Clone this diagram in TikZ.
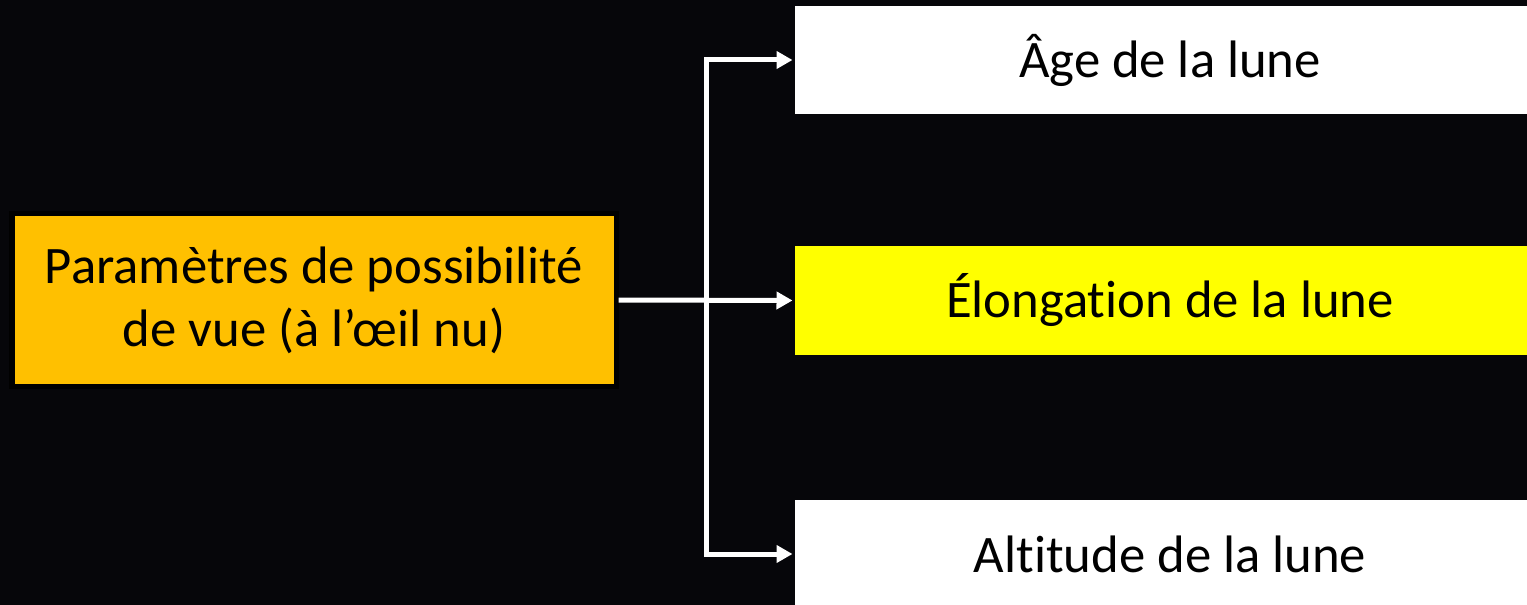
\documentclass[tikz,border=0pt]{standalone}
\usepackage{fontspec}
\setmainfont[RawFeature={-liga;-clig;-calt;-dlig}]{Carlito}
\usetikzlibrary{arrows.meta}

\definecolor{bgdark}{RGB}{6,6,10}
\definecolor{paramorange}{RGB}{255,192,0}
\definecolor{elongyellow}{RGB}{255,255,0}

\tikzstyle{param} = [rectangle, minimum width=12.08cm, minimum height=3.44cm, text centered, align=center, fill=paramorange, draw=black, font=\fontsize{30}{36}\selectfont]
\tikzstyle{crit} = [rectangle, minimum width=15cm, minimum height=2.16cm, text centered, fill=white, font=\fontsize{30}{36}\selectfont]

\begin{document}
\begin{tikzpicture}[-{Triangle[length=0.32cm,width=0.34cm]},line width=0.1cm]

\useasboundingbox (0,0) rectangle (30.54,-12.1);
\fill[bgdark] (0,0) rectangle (30.54,-12.1);

\node[param] (param) at (6.28,-6.0) {Paramètres de possibilité\\de vue (à l’œil nu)};

\node[crit] (age) at (23.4,-1.2) {Âge de la lune};
\node[crit, fill=elongyellow] (elong) at (23.4,-6.01) {Élongation de la lune};
\node[crit] (alt) at (23.4,-11.08) {Altitude de la lune};

\coordinate (fork) at (14.12,-6.0);

\draw[white] (param.east) -- (elong.west);
\draw[white] (fork) |- (age.west);
\draw[white] (fork) |- (alt.west);

\end{tikzpicture}
\end{document}
